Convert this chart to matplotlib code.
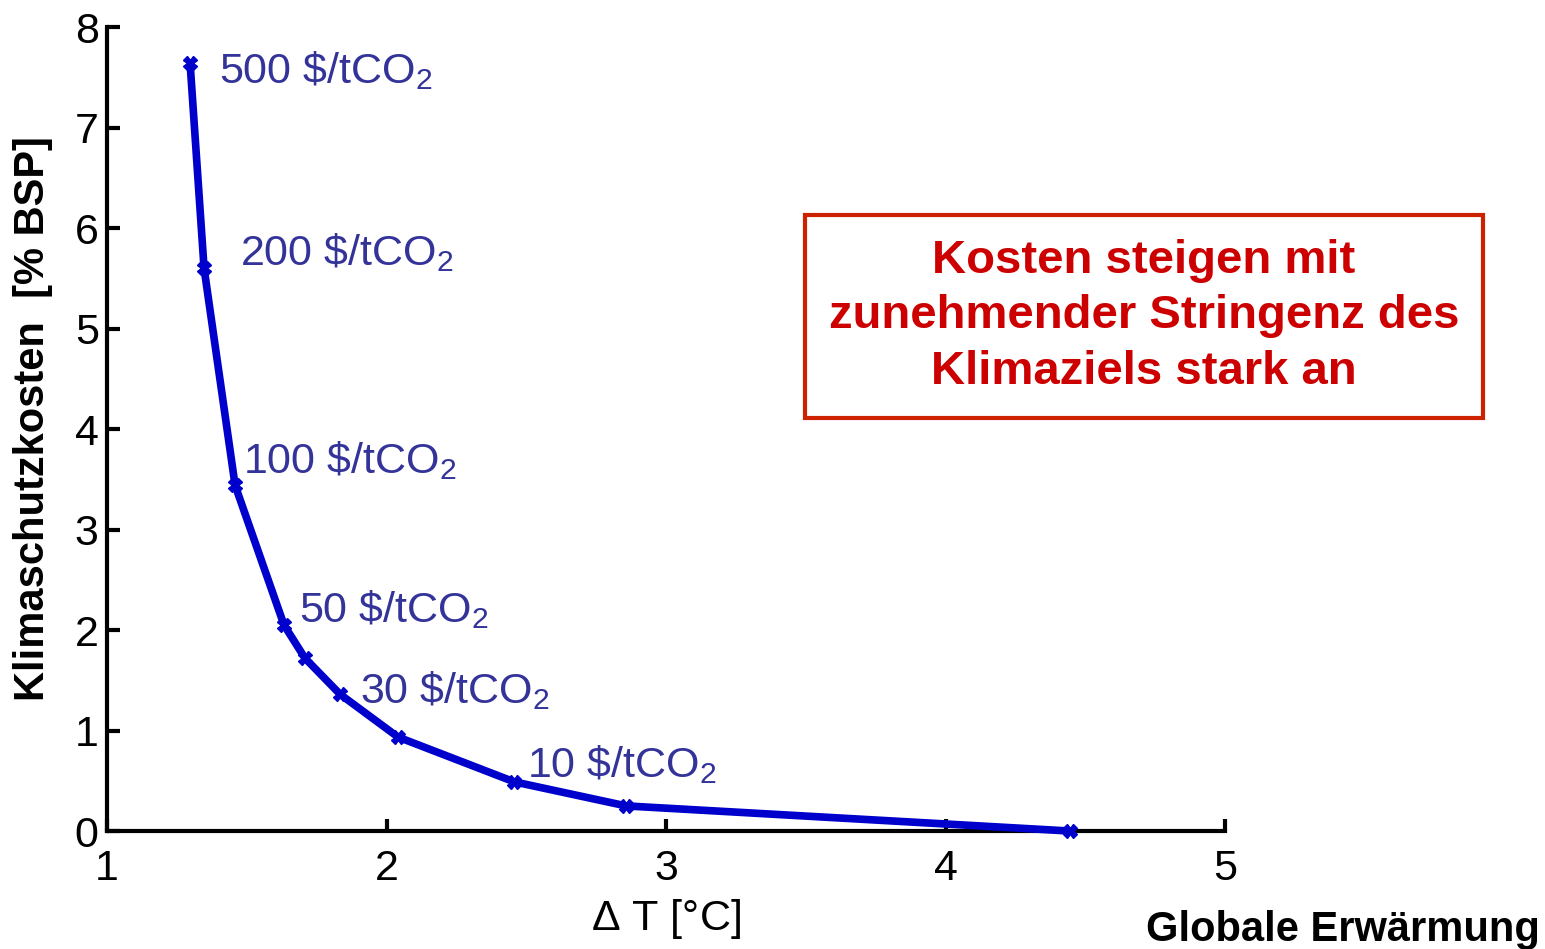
import numpy as np
import matplotlib
matplotlib.use('Agg')
import matplotlib.pyplot as plt

plt.rcParams['font.family'] = ['Liberation Sans', 'DejaVu Sans']
plt.rcParams['mathtext.fontset'] = 'custom'
plt.rcParams['mathtext.rm'] = 'Liberation Sans'
plt.rcParams['mathtext.it'] = 'Liberation Sans'

# warming (deg C) vs. mitigation cost (% GDP)
deltaT = [1.297, 1.347, 1.458, 1.633, 1.708, 1.834, 2.041, 2.456, 2.857, 4.445]
costs = [7.64, 5.60, 3.44, 2.05, 1.72, 1.36, 0.935, 0.49, 0.25, 0.0]

# carbon price labels and index of the point they belong to
priceLabels = ['500', '200', '100', '50', '30', '10']
priceIdx = [0, 1, 2, 3, 5, 7]
labelOffsets = [(21, -5), (26, 11), (6, 18), (11, 11), (14, 3), (9, 12)]

lineColor = '#0000CC'
labelColor = '#333399'
red = '#CC0000'

fig = plt.figure(figsize=(15.45, 9.49), dpi=100)
ax = fig.add_axes([0.0693, 0.1243, 0.7237, 0.8472])

ax.plot(deltaT, costs, color=lineColor, lw=5.5, marker='X', ms=10,
        mec=lineColor, mfc=lineColor, zorder=3, clip_on=False)

for lab, i, off in zip(priceLabels, priceIdx, labelOffsets):
    ax.annotate(lab + r' \$/tCO$_2$', (deltaT[i], costs[i]), xytext=off,
                textcoords='offset points', ha='left', va='center',
                fontsize=31, color=labelColor)

ax.set_xlim(1, 5)
ax.set_ylim(0, 8)
ax.set_xticks(range(1, 6))
ax.set_yticks(range(0, 9))
for s in ['top', 'right']:
    ax.spines[s].set_visible(False)
for s in ['left', 'bottom']:
    ax.spines[s].set_linewidth(3)
ax.tick_params(direction='in', length=9, width=3, labelsize=31)
ax.tick_params(axis='x', pad=13)
ax.tick_params(axis='y', pad=6)

ax.set_xlabel(r'$\Delta$ T [°C]', fontsize=31, labelpad=6)
ax.set_ylabel('Klimaschutzkosten  [% BSP]', fontsize=30, fontweight='bold')
ax.yaxis.set_label_coords(-0.048, 0.513)

fig.text(0.997, 0.02, 'Globale Erwärmung', ha='right', va='center',
         fontsize=30, fontweight='bold')

fig.text(0.7405, 0.6665, 'Kosten steigen mit\nzunehmender Stringenz des\nKlimaziels stark an',
         ha='center', va='center', fontsize=34, fontweight='bold', color=red,
         linespacing=1.35,
         bbox=dict(boxstyle='square,pad=0.5', fc='white', ec='#CC2200', lw=3))

fig.savefig('out.png', dpi=100)
